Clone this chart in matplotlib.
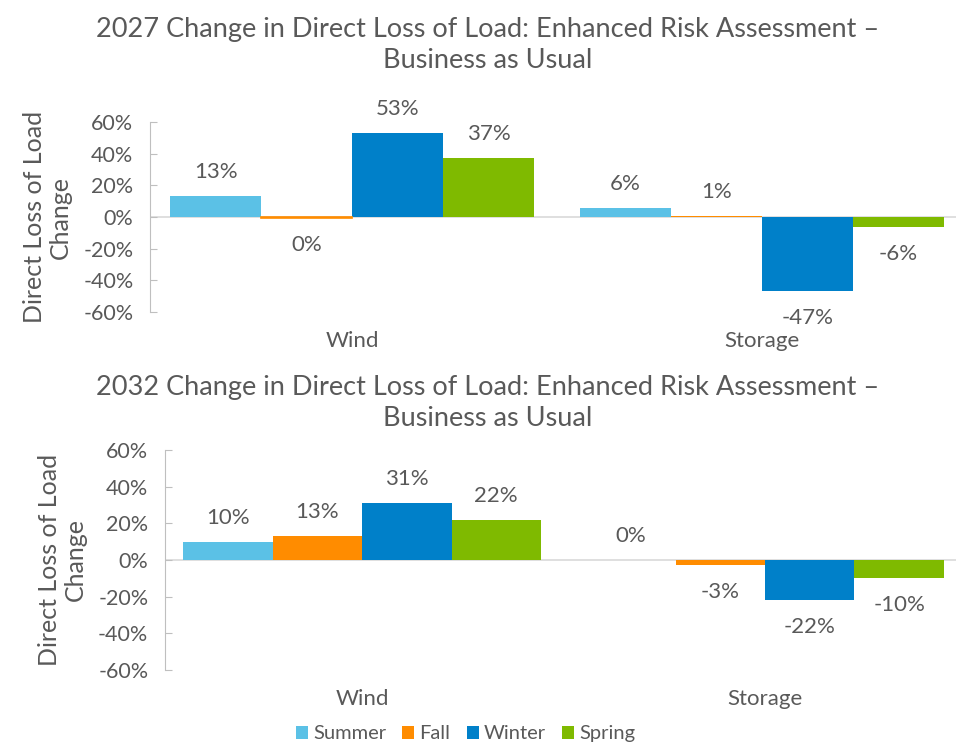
import matplotlib.pyplot as plt
import numpy as np

plt.rcParams['font.family'] = ['Lato', 'DejaVu Sans']

categories = ['Wind', 'Storage']
seasons = ['Summer', 'Fall', 'Winter', 'Spring']
colors = ['#5BC1E6', '#FF8C00', '#0080C9', '#7FBA00']

# 2027 values (%)
summer_2027 = [13, 6]
fall_2027 = [-0.45, 0.6]
winter_2027 = [53, -47]
spring_2027 = [37, -6]

# 2032 values (%)
summer_2032 = [10, 0]
fall_2032 = [13, -3]
winter_2032 = [31, -22]
spring_2032 = [22, -10]

titles = ['2027 Change in Direct Loss of Load: Enhanced Risk Assessment \u2013\nBusiness as Usual',
          '2032 Change in Direct Loss of Load: Enhanced Risk Assessment \u2013\nBusiness as Usual']
yticks = [-60, -40, -20, 0, 20, 40, 60]

txt = '#595959'
fig = plt.figure(figsize=(9.56, 7.44), dpi=100)

panels = [
    ([summer_2027, fall_2027, winter_2027, spring_2027], [0.157, 0.5806, 0.843, 0.2554], (-0.493, 1.473), 0.9395),
    ([summer_2032, fall_2032, winter_2032, spring_2032], [0.1726, 0.0995, 0.8274, 0.2957], (-0.489, 1.474), 0.459),
]

x = np.arange(len(categories))
w = 0.222
handles = []
for i, (series, pos, xl, ty) in enumerate(panels):
    ax = fig.add_axes(pos)
    ax.axhline(0, color='#D9D9D9', lw=1.2, zorder=1)
    for j, (vals, c) in enumerate(zip(series, colors)):
        bars = ax.bar(x + (j - 1.5) * w, vals, w, color=c, label=seasons[j], zorder=2)
        if i == 0:
            handles.append(bars)
        for xi, v in zip(x + (j - 1.5) * w, vals):
            off = 24 if v >= 0 else -27
            ax.annotate(f'{round(v):.0f}%', (xi, v), xytext=(0, off), textcoords='offset pixels',
                        ha='center', va='center', fontsize=16, color=txt)
    # thin orange sliver just under the axis line (2027 wind fall)
    if i == 0:
        ax.bar(x[0] - 0.5 * w, fall_2027[0], w, color='none', edgecolor=colors[1], lw=1.2, zorder=3)
    ax.set_xlim(*xl)
    ax.set_ylim(-60, 60)
    ax.set_yticks(yticks)
    ax.set_yticklabels([f'{t}%' for t in yticks], fontsize=15.5, color=txt)
    ax.set_xticks(x)
    ax.set_xticklabels(categories, fontsize=16, color=txt)
    ax.tick_params(axis='x', length=0, pad=14)
    ax.tick_params(axis='y', direction='in', length=5, color='#BFBFBF', pad=12)
    for s in ['top', 'right', 'bottom']:
        ax.spines[s].set_visible(False)
    ax.spines['left'].set_color('#BFBFBF')
    ax.set_ylabel('Direct Loss of Load\nChange', fontsize=18, color=txt, linespacing=1.15, labelpad=8)
    fig.text(0.51, ty, titles[i], ha='center', va='center', fontsize=19.5, color=txt, linespacing=1.3)

fig.legend(handles, seasons, loc='lower center', bbox_to_anchor=(0.487, -0.022), ncol=4, frameon=False,
           fontsize=14.5, handlelength=0.6, handleheight=0.6, handletextpad=0.25, columnspacing=0.8,
           labelcolor=txt)

fig.savefig('out.png', dpi=100)
